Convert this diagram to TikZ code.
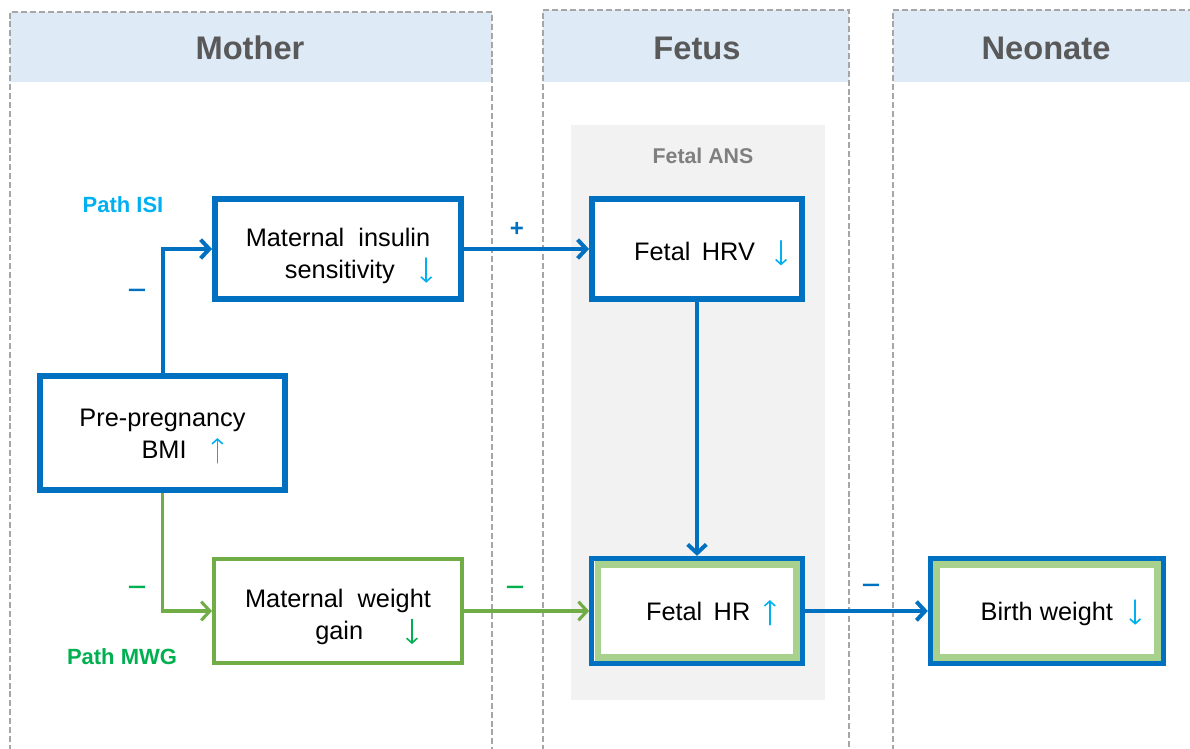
\documentclass[tikz,border=0pt]{standalone}
\usepackage{fontspec}
\setmainfont{Liberation Sans}
\usetikzlibrary{arrows.meta}

\definecolor{pathblue}{HTML}{0070C0}
\definecolor{signcyan}{HTML}{00B0F0}
\definecolor{pathgreen}{HTML}{70AD47}
\definecolor{textgreen}{HTML}{00B050}
\definecolor{softgreen}{HTML}{A9D18E}
\definecolor{headfill}{HTML}{DEEAF6}
\definecolor{headtext}{HTML}{595959}
\definecolor{anstext}{HTML}{7F7F7F}
\definecolor{ansfill}{HTML}{F2F2F2}
\definecolor{colline}{HTML}{A6A6A6}

% tall thin trend arrows drawn inline with the text
\tikzset{trendtip/.style={line width=1.2pt, line cap=round,
  -{Straight Barb[length=3.6pt,width=8pt,line width=1.2pt]}}}
\newcommand\uptrend[1]{\tikz[baseline=0pt]\draw[#1, trendtip] (0pt,-3.5pt) -- (0pt,15pt);}
\newcommand\dntrend[1]{\tikz[baseline=0pt]\draw[#1, trendtip] (0pt,15pt) -- (0pt,-3.5pt);}
\newcommand\upmark{\uptrend{signcyan}}
\newcommand\dnmark{\dntrend{signcyan}}
\newcommand\dngreen{\dntrend{textgreen}}
% box text: lines set in a column, shifted down by #1 inside the box
\newcommand\boxtext[2]{\raisebox{-#1}[\height][\depth]{\begin{tabular}{@{}c@{}}#2\end{tabular}}}

\tikzset{
  colborder/.style={draw=colline, line width=1.1pt, dash pattern=on 4.5pt off 2.2pt},
  headlabel/.style={font=\fontsize{24.5}{28}\selectfont\bfseries, text=headtext},
  bluebox/.style={draw=pathblue, line width=4.5pt, fill=white,
    font=\fontsize{19}{24}\selectfont, inner sep=0pt},
  greenbox/.style={draw=pathgreen, line width=3pt, fill=white,
    font=\fontsize{19}{24}\selectfont, inner sep=0pt},
  bluelink/.style={draw=pathblue, line width=3pt,
    -{Straight Barb[length=6.5pt,width=14pt,line width=3pt]}},
  greenlink/.style={draw=pathgreen, line width=2.3pt,
    -{Straight Barb[length=6.5pt,width=14pt,line width=2.3pt]}},
  minuslabel/.style={font=\fontsize{25}{28}\selectfont},
  pluslabel/.style={font=\fontsize{18}{20}\selectfont\bfseries},
  pathlabel/.style={font=\fontsize{16.5}{20}\selectfont\bfseries},
}

\begin{document}
\begin{tikzpicture}[x=0.75pt, y=-0.75pt]
\useasboundingbox (0,0) rectangle (1190,749);
\clip (0,0) rectangle (1190,749);

% column headers
\fill[headfill] (10,12) rectangle (492,82);
\fill[headfill] (543,10) rectangle (849,82);
\fill[headfill] (893,10) rectangle (1200,82);

% column outlines
\draw[colborder] (10,760) -- (10,12) -- (492,12) -- (492,760);
\draw[colborder] (543,760) -- (543,10) -- (849,10) -- (849,760);
\draw[colborder] (893,760) -- (893,10) -- (1200,10);

\node[headlabel] (hmother) at (250,48) {Mother};
\node[headlabel] (hfetus) at (697,48) {Fetus};
\node[headlabel] (hneonate) at (1046,48) {Neonate};

% fetal autonomic nervous system area
\fill[ansfill] (571,125) rectangle (825,700);
\node[font=\fontsize{16}{19}\selectfont\bfseries, text=anstext] (ans) at (703,156) {Fetal ANS};

% boxes
\node[bluebox, minimum width=184.5pt, minimum height=75pt] (mis) at (338,249)
  {\boxtext{5pt}{Maternal\ \ insulin\\\hspace*{31pt}sensitivity\hspace{19pt}\dnmark}};
\node[bluebox, minimum width=157.5pt, minimum height=75pt] (hrv) at (697,249)
  {\boxtext{4pt}{\hspace*{20.5pt}Fetal\hspace{0.45em}HRV\hspace{15pt}\dnmark}};
\node[bluebox, minimum width=183.75pt, minimum height=85.5pt] (bmi) at (162.5,433)
  {\boxtext{2pt}{Pre-pregnancy\\\hspace*{30pt}BMI\hspace{18.5pt}\upmark}};
\node[greenbox, minimum width=186pt, minimum height=78pt] (mwg) at (338,611)
  {\boxtext{4.5pt}{Maternal\ \ weight\\\hspace*{43pt}gain\hspace{32pt}\dngreen}};
\node[bluebox, line width=3.75pt, minimum width=158pt, minimum height=79pt] (hr) at (697,611)
  {\boxtext{2pt}{\hspace*{21pt}Fetal\hspace{0.45em}HR\hspace{10pt}\upmark}};
\node[bluebox, line width=3.75pt, minimum width=175pt, minimum height=79pt] (bw) at (1047,611)
  {\boxtext{2pt}{\hspace*{21pt}Birth\ weight\hspace{12pt}\dnmark}};

% inner green frames of the outcome boxes
\draw[softgreen, line width=5pt]
  ([shift={(6.5pt,-6.5pt)}]hr.north west) rectangle ([shift={(-6.5pt,6.5pt)}]hr.south east);
\draw[softgreen, line width=5pt]
  ([shift={(6.5pt,-6.5pt)}]bw.north west) rectangle ([shift={(-6.5pt,6.5pt)}]bw.south east);

% connectors
\draw[bluelink] (bmi.north) |- (mis.west);
\draw[bluelink] (mis.east) -- (hrv.west);
\draw[bluelink] (hrv.south) -- (hr.north);
\draw[greenlink] (bmi.south) |- (mwg.west);
\draw[greenlink] (mwg.east) -- (hr.west);
\draw[bluelink] (hr.east) -- (bw.west);

% signs on the links
\node[minuslabel, text=pathblue] (s1) at (137,295) {−};
\node[pluslabel, text=pathblue] (s2) at (517,229) {+};
\node[minuslabel, text=textgreen] (s3) at (137,592) {−};
\node[minuslabel, text=textgreen] (s4) at (515,592) {−};
\node[minuslabel, text=pathblue] (s5) at (871,590) {−};

% path names
\node[pathlabel, text=signcyan] (pisi) at (123,205) {Path ISI};
\node[pathlabel, text=textgreen] (pmwg) at (122,657) {Path MWG};
\end{tikzpicture}
\end{document}
